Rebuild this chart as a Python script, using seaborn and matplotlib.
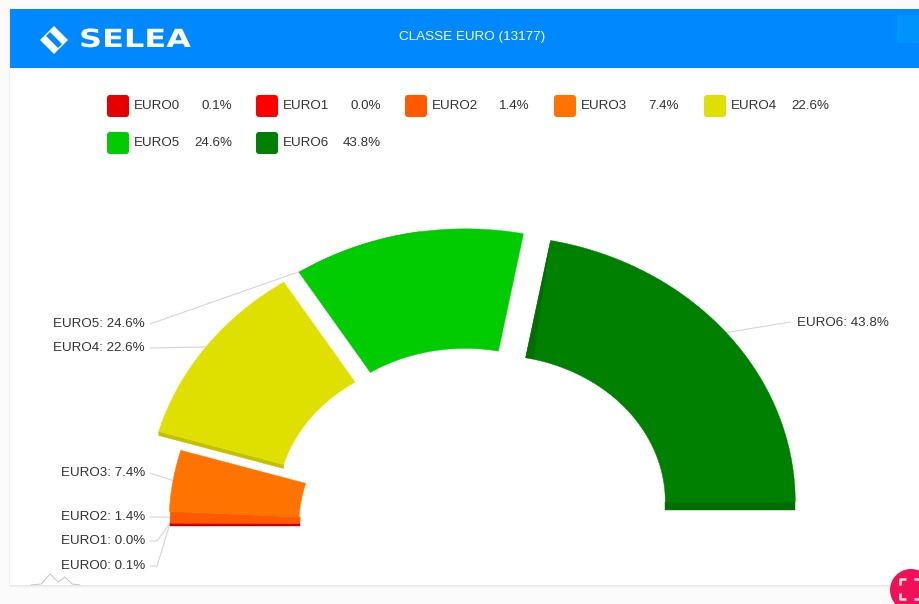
import seaborn as sns
import matplotlib.pyplot as plt
import matplotlib.patheffects as pe
import numpy as np
from matplotlib.patches import Rectangle, FancyBboxPatch, Circle, Polygon
from matplotlib.transforms import Affine2D

# chart data
names = ['EURO0', 'EURO1', 'EURO2', 'EURO3', 'EURO4', 'EURO5', 'EURO6']
values = [0.1, 0.0, 1.4, 7.4, 22.6, 24.6, 43.8]
sliced = [False, False, False, False, True, True, True]
colors = ['#e60000', '#ff0000', '#ff5a00', '#ff7300', '#e0e000', '#00cc00', '#008000']
title = 'CLASSE EURO (13177)'

sns.set_style('white')
plt.rcParams['font.family'] = ['Liberation Sans', 'DejaVu Sans']
palette = sns.color_palette(colors)
dark = [tuple(np.array(c) * 0.86) for c in palette]
text_color = '#333333'


# the logo lettering is much wider than any installed bold face
class WideText(pe.AbstractPathEffect):
    def __init__(self, x0, factor):
        super().__init__()
        self.x0 = x0
        self.factor = factor

    def draw_path(self, renderer, gc, tpath, affine, rgbFace=None):
        stretch = Affine2D().translate(-self.x0, 0).scale(self.factor, 1).translate(self.x0, 0)
        renderer.draw_path(gc, tpath, affine + stretch, rgbFace)


fig = plt.figure(figsize=(9.19, 6.04), dpi=100, facecolor='#fbfbfb')
ax = fig.add_axes([0, 0, 1, 1])
ax.set_xlim(0, 919)
ax.set_ylim(604, 0)
ax.axis('off')

# panel, soft shadow and header
for k, grey in enumerate(['#f6f6f6', '#f0f0f0', '#e8e8e8']):
    ax.add_patch(Rectangle((9 + k * 0.4, 9), 910, 579 - k, fc=grey, ec='none', zorder=0))
ax.add_patch(Rectangle((10, 9), 909, 576, fc='white', ec='none', zorder=0.5))
ax.add_patch(Rectangle((10, 9), 909, 59, fc='#0088ff', ec='none', zorder=1))
ax.add_patch(Rectangle((897, 15), 22, 28, fc='#0094fb', ec='none', zorder=2))
ax.add_patch(Polygon([(54, 26), (68, 40), (54, 54), (40, 40)], fc='white', ec='none', zorder=2))
ax.add_patch(Polygon([(50, 32), (62, 44), (58, 48), (46, 36)], fc='#0088ff', ec='none', zorder=2))
ax.text(79, 40, 'SELEA', color='white', fontsize=18, fontweight='bold', family='DejaVu Sans', va='center', zorder=3,
        path_effects=[WideText(79, 1.28)])
ax.text(399, 37, title, color='white', fontsize=9.7, va='center', zorder=3)

# legend
col_x = [107, 256, 405, 554, 704]
for i, (n, v, c) in enumerate(zip(names, values, palette)):
    row = i // 5
    x = col_x[i % 5]
    y = 95 + row * 37
    ax.add_patch(FancyBboxPatch((x + 2, y + 2), 18, 18, boxstyle='round,pad=2,rounding_size=3', fc=c, ec='none', zorder=2))
    ax.text(x + 27, y + 11, n, color=text_color, fontsize=9.6, va='center', zorder=3)
    ax.text(x + 125, y + 11, f'{v:.1f}%', color=text_color, fontsize=9.6, va='center', ha='right', zorder=3)

# pie geometry, angles measured from the left end of the half circle
cx, cy = 473, 524
outer, inner = 303, 173
squash_outer, squash_inner = 0.88, 0.85
gap = 25
nudge_x = [0, 0, 0, -1, -3, -3, 0]
lift = [0, 0, 0, 0, 4, 4, 6]
wall = [2, 0, 0, 0, 4, 0, 8]


def ring(r, squash, a):
    return cx - r * np.cos(a), cy - squash * r * np.sin(a)


edges = np.cumsum([0] + values) / sum(values) * np.pi
anchors = []
for i in range(len(values)):
    a0, a1 = edges[i], edges[i + 1]
    mid = (a0 + a1) / 2
    dx = nudge_x[i] + (-gap * np.cos(mid) if sliced[i] else 0)
    dy = -lift[i] + (-gap * np.sin(mid) if sliced[i] else 0)
    t = np.linspace(a0, a1, 80)
    xo, yo = ring(outer, squash_outer, t)
    xi, yi = ring(inner, squash_inner, t)
    xo, yo, xi, yi = xo + dx, yo + dy, xi + dx, yi + dy
    # side wall under the radial edge nearest the viewer
    e = 0 if mid < np.pi / 2 else -1
    if wall[i]:
        side = [(xo[e], yo[e]), (xi[e], yi[e]), (xi[e], yi[e] + wall[i]), (xo[e], yo[e] + wall[i])]
        ax.add_patch(Polygon(side, fc=dark[i], ec=dark[i], lw=0.3, zorder=4 + i * 0.1))
    ax.fill(np.r_[xo, xi[::-1]], np.r_[yo, yi[::-1]], color=palette[i], lw=0.3, zorder=4.02 + i * 0.1)
    if names[i] == 'EURO5':
        # darker rim on the back edge
        ax.plot(xo[:45], yo[:45], color=dark[i], lw=0.9, alpha=0.6, zorder=5)
    if names[i] == 'EURO6':
        # shaded inner corner of the far radial edge
        ax.add_patch(Polygon([(xo[0], yo[0]), (xi[0], yi[0]), (xi[0] + 8, yi[0] + 1)], fc=dark[i], ec='none', zorder=5))
    ax_x, ax_y = ring(outer, squash_outer, mid)
    anchors.append((ax_x + dx, ax_y + dy))

# data labels with leader lines
label_y = [566, 541, 517, 473, 348, 324, 323]
for i, n in enumerate(names):
    text = f'{n}: {values[i]:.1f}%'
    ly = label_y[i]
    if n == 'EURO6':
        ax.text(797, ly, text, color=text_color, fontsize=9.6, va='center', zorder=6)
        xs, ys = [790, anchors[i][0]], [ly - 1, anchors[i][1]]
    else:
        ax.text(145, ly, text, color=text_color, fontsize=9.6, va='center', ha='right', zorder=6)
        xs, ys = [150, 157 if i < 2 else 150, anchors[i][0]], [ly, ly, anchors[i][1]]
    ax.plot(xs, ys, color='#d4d4d4', lw=0.8, zorder=3)

# small watermark in the corner
ax.plot([31, 41, 50, 58, 65, 72, 80], [585, 584, 574, 582, 577, 584, 585], color='#c4c4c4', lw=0.7, zorder=2)

# fullscreen button
ax.add_patch(Circle((911, 590), 21, fc='#f0105a', ec='none', zorder=7))
bracket = dict(color='#fde6ee', lw=1.8, zorder=8, solid_capstyle='butt')
ax.plot([906, 900, 900], [579, 579, 585], **bracket)
ax.plot([900, 900, 906], [593, 599, 599], **bracket)
ax.plot([914, 919], [579, 579], **bracket)
ax.plot([914, 919], [599, 599], **bracket)

fig.savefig('out.png', dpi=100, facecolor=fig.get_facecolor())
